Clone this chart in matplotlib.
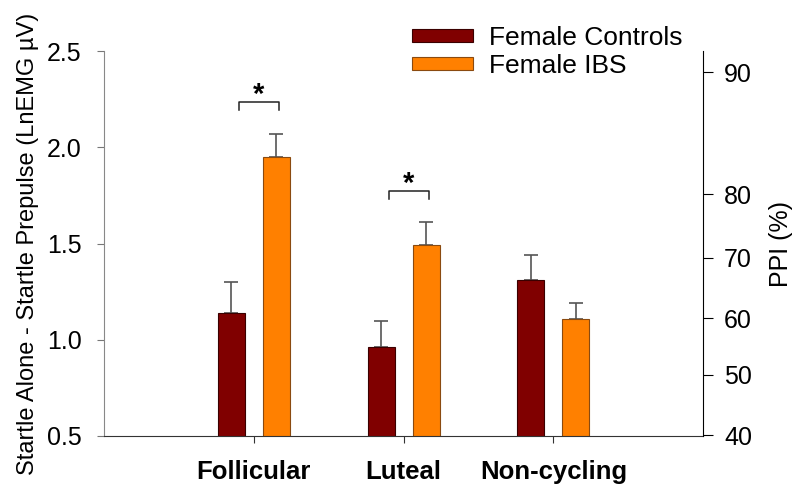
import numpy as np
import matplotlib
matplotlib.use("Agg")
import matplotlib.pyplot as plt

plt.rcParams["font.family"] = ["Liberation Sans", "DejaVu Sans"]

# values
phases = ["Follicular", "Luteal", "Non-cycling"]
controls = [1.14, 0.96, 1.31]
controls_err = [0.16, 0.14, 0.13]
ibs = [1.95, 1.49, 1.11]
ibs_err = [0.12, 0.12, 0.08]

# right axis (PPI %) tick labels and where they sit on the left scale
ppi_labels = [40, 50, 60, 70, 80, 90]
ppi_pos = [0.505, 0.817, 1.113, 1.425, 1.757, 2.391]

# significance brackets: (phase index, bracket height, star height)
sig = [(0, 2.237, 2.27), (1, 1.774, 1.81)]

x = np.arange(1, len(phases) + 1)
w = 0.18
off = 0.15

fig = plt.figure(figsize=(8, 4.86), dpi=100)
ax = fig.add_axes([0.13, 0.1029, 0.749, 0.7921])

ax.bar(x - off, controls, w, color="#800000", edgecolor="#3a0000", linewidth=0.8,
       label="Female Controls", zorder=2)
ax.bar(x + off, ibs, w, color="#ff8000", edgecolor="#8a4a10", linewidth=0.8,
       label="Female IBS", zorder=2)
ax.errorbar(x - off, controls, yerr=[np.zeros(3), controls_err], fmt="none",
            ecolor="#555555", elinewidth=1.2, capsize=5, capthick=1.2, zorder=1)
ax.errorbar(x + off, ibs, yerr=[np.zeros(3), ibs_err], fmt="none",
            ecolor="#555555", elinewidth=1.2, capsize=5, capthick=1.2, zorder=1)

for i, yb, ys in sig:
    x0 = x[i] - 0.1
    x1 = x[i] + 0.167
    ax.plot([x0, x0, x1, x1], [yb - 0.045, yb, yb, yb - 0.045], color="#222222", lw=1.1)
    ax.text((x0 + x1) / 2, ys, "*", ha="center", va="center", fontsize=21, fontweight="bold")

ax.set_xlim(0, 4)
ax.set_ylim(0.5, 2.5)
ax.set_yticks([0.5, 1.0, 1.5, 2.0, 2.5])
ax.set_yticklabels(["0.5", "1.0", "1.5", "2.0", "2.5"])
ax.set_xticks(x)
ax.set_xticklabels(phases, fontsize=18.5, fontweight="bold")
ax.tick_params(axis="y", direction="out", length=5, width=0.8, labelsize=18, pad=11,
               color="#777777")
ax.tick_params(axis="x", direction="out", length=5, width=0.8, pad=12, color="#333333")
ax.spines["top"].set_visible(False)
ax.spines["right"].set_visible(False)
ax.spines["left"].set_color("#888888")
ax.spines["bottom"].set_color("#333333")
ax.set_ylabel("Startle Alone - Startle Prepulse (LnEMG µV)", fontsize=17, labelpad=6)

ax2 = ax.twinx()
ax2.set_ylim(ax.get_ylim())
ax2.set_yticks(ppi_pos)
ax2.set_yticklabels([str(v) for v in ppi_labels])
ax2.tick_params(axis="y", direction="out", length=7, width=0.8, labelsize=18, pad=8)
for s in ["top", "left", "bottom"]:
    ax2.spines[s].set_visible(False)
ax2.set_ylabel("PPI (%)", fontsize=18, labelpad=12)

ax.legend(loc="upper left", bbox_to_anchor=(0.514, 1.065), frameon=False, fontsize=19,
          handlelength=2.3, handleheight=0.4, handletextpad=0.6, labelspacing=0.15,
          borderpad=0, borderaxespad=0)

fig.savefig("out.png", dpi=100)
